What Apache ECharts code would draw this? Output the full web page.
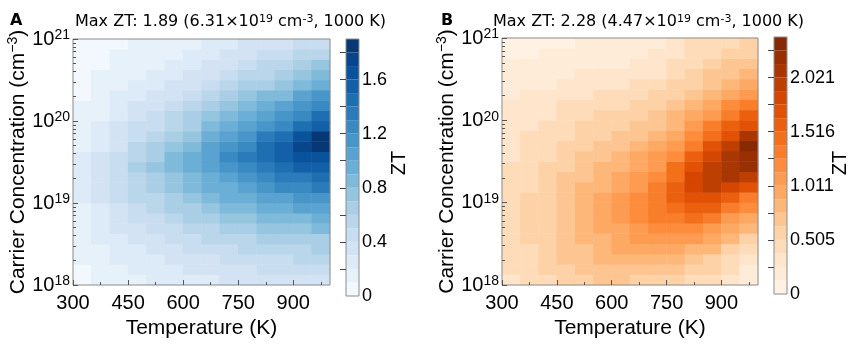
<!DOCTYPE html>
<html><head><meta charset="utf-8">
<script src="https://cdn.jsdelivr.net/npm/echarts@6/dist/echarts.min.js"></script>
<style>html,body{margin:0;padding:0;background:#fff}#c{width:853px;height:344px}</style>
</head><body><div id="c"></div>
<script>
// ---- data ----
// temperature cell centres (K) and log10 carrier-concentration cell centres
const tempCentersK = [325,375,425,475,525,575,625,675,725,775,825,875,925,975];
const logConcCenters = [18.0625,18.1875,18.3125,18.4375,18.5625,18.6875,18.8125,18.9375,19.0625,19.1875,19.3125,19.4375,19.5625,19.6875,19.8125,19.9375,20.0625,20.1875,20.3125,20.4375,20.5625,20.6875,20.8125,20.9375];
const tempTickLabels = [300,450,600,750,900];
const tempMinorTicks = [375,525,675,825,975];
const concDecades = [18,19,20,21];
const logMinorMantissas = [2,3,4,5,6,7,8,9];
// contour levels
const levelsA = [0,0.1,0.2,0.3,0.4,0.5,0.6,0.7,0.8,0.9,1.0,1.1,1.2,1.3,1.4,1.5,1.6,1.7,1.8,1.9];
const levelsB = [0,0.12632,0.25263,0.37895,0.50526,0.63158,0.75789,0.88421,1.01053,1.13684,1.26316,1.38947,1.51579,1.64211,1.76842,1.89474,2.02105,2.14737,2.27368,2.4];
const cbTicksA = [0.2,0.4,0.6,0.8,1.0,1.2,1.4,1.6,1.8];
const cbLabelsA = [0,0.4,0.8,1.2,1.6];
const cbTicksB = [0.25263,0.50526,0.75789,1.01053,1.26316,1.51579,1.76842,2.02105,2.27368];
const cbLabelsB = [0,0.50526,1.01053,1.51579,2.02105];
// ZT, one list per temperature column, from low to high concentration
const ztA = [
 [.08,.09,.11,.12,.14,.16,.18,.19,.21,.22,.23,.23,.21,.18,.16,.14,.12,.11,.09,.08,.06,.05,.04,.04],
 [.12,.13,.16,.18,.20,.23,.26,.28,.31,.33,.35,.35,.32,.28,.25,.22,.19,.16,.14,.12,.10,.08,.07,.06],
 [.15,.17,.20,.24,.27,.30,.34,.38,.41,.44,.47,.49,.45,.39,.35,.31,.27,.23,.20,.17,.14,.12,.10,.08],
 [.19,.21,.25,.29,.32,.37,.41,.46,.50,.54,.58,.61,.57,.50,.45,.40,.35,.30,.26,.22,.18,.15,.13,.11],
 [.22,.24,.28,.33,.38,.43,.48,.54,.59,.64,.68,.72,.69,.62,.55,.49,.43,.37,.32,.27,.23,.19,.16,.13],
 [.24,.28,.32,.37,.43,.48,.54,.61,.67,.73,.78,.82,.82,.75,.66,.59,.52,.45,.39,.33,.28,.23,.19,.16],
 [.27,.31,.35,.41,.47,.53,.60,.68,.75,.81,.88,.93,.96,.88,.77,.69,.61,.53,.46,.39,.33,.27,.23,.19],
 [.29,.34,.38,.44,.52,.59,.66,.75,.84,.91,.98,1.04,1.09,1.02,.90,.80,.71,.62,.54,.46,.39,.33,.27,.22],
 [.31,.36,.41,.48,.56,.63,.71,.81,.91,.99,1.07,1.14,1.20,1.16,1.03,.92,.81,.72,.62,.53,.45,.38,.31,.26],
 [.33,.38,.44,.50,.59,.68,.76,.86,.97,1.07,1.15,1.23,1.30,1.29,1.17,1.03,.92,.81,.70,.60,.52,.44,.36,.30],
 [.35,.40,.46,.53,.62,.72,.81,.91,1.03,1.14,1.23,1.33,1.40,1.44,1.31,1.16,1.03,.91,.80,.68,.58,.50,.41,.34],
 [.36,.42,.49,.55,.64,.75,.85,.96,1.08,1.21,1.31,1.42,1.50,1.58,1.46,1.29,1.15,1.02,.89,.77,.65,.56,.46,.38],
 [.38,.44,.51,.58,.67,.78,.89,1.01,1.14,1.28,1.39,1.50,1.60,1.70,1.61,1.44,1.28,1.14,1.00,.86,.74,.63,.53,.44],
 [.39,.45,.53,.60,.69,.81,.93,1.05,1.18,1.33,1.46,1.58,1.69,1.85,1.82,1.59,1.41,1.25,1.10,.96,.82,.70,.59,.49]
];
const ztB = [
 [.37,.39,.40,.42,.43,.44,.44,.43,.43,.42,.40,.39,.37,.35,.33,.31,.29,.26,.23,.20,.17,.14,.11,.07],
 [.44,.46,.48,.50,.51,.52,.53,.52,.51,.50,.48,.46,.44,.42,.39,.36,.34,.30,.27,.23,.19,.15,.12,.08],
 [.50,.53,.55,.58,.59,.61,.62,.61,.60,.58,.56,.53,.50,.47,.44,.41,.37,.34,.30,.25,.21,.17,.13,.09],
 [.57,.61,.64,.67,.69,.71,.73,.71,.70,.68,.65,.61,.58,.54,.50,.46,.42,.38,.34,.28,.23,.18,.14,.11],
 [.61,.67,.71,.75,.79,.81,.84,.82,.81,.77,.74,.70,.66,.61,.57,.52,.47,.42,.37,.31,.26,.21,.16,.14],
 [.64,.71,.78,.83,.87,.91,.94,.94,.92,.86,.83,.78,.73,.67,.62,.56,.51,.45,.40,.33,.28,.22,.18,.15],
 [.65,.73,.82,.90,.95,1.01,1.04,1.06,1.03,.99,.94,.87,.82,.74,.68,.61,.56,.49,.43,.36,.31,.25,.21,.18],
 [.63,.73,.83,.93,1.02,1.09,1.14,1.19,1.17,1.13,1.08,.98,.90,.82,.75,.66,.59,.52,.45,.38,.32,.27,.23,.20],
 [.62,.71,.83,.96,1.08,1.19,1.28,1.34,1.37,1.31,1.22,1.13,1.04,.94,.86,.74,.66,.58,.51,.43,.37,.32,.28,.24],
 [.58,.69,.80,.95,1.09,1.26,1.37,1.48,1.55,1.54,1.48,1.39,1.23,1.10,.99,.86,.79,.68,.60,.51,.45,.39,.34,.30],
 [.50,.62,.74,.88,1.03,1.22,1.41,1.57,1.70,1.79,1.77,1.68,1.52,1.35,1.20,1.08,.91,.81,.72,.62,.55,.48,.43,.38],
 [.39,.51,.63,.78,.93,1.12,1.32,1.56,1.75,1.91,2.01,1.98,1.87,1.67,1.48,1.29,1.12,.97,.85,.74,.65,.57,.50,.43],
 [.28,.38,.48,.63,.78,.96,1.13,1.38,1.62,1.86,2.03,2.14,2.10,1.96,1.75,1.58,1.33,1.15,.99,.86,.75,.65,.57,.50],
 [.16,.25,.36,.48,.62,.78,.95,1.15,1.38,1.65,1.95,2.18,2.24,2.28,2.03,1.76,1.54,1.33,1.13,.98,.85,.72,.63,.54]
];
const titleA = 'Max ZT: 1.89 (6.31×10{s|19} cm{s|-3}, 1000 K)';
const titleB = 'Max ZT: 2.28 (4.47×10{s|19} cm{s|-3}, 1000 K)';

// ---- styling helpers ----
const BLUES = ['#f7fbff','#deebf7','#c6dbef','#9ecae1','#6baed6','#4292c6','#2171b5','#08519c','#08306b'];
const ORANGES = ['#fff5eb','#fee6ce','#fdd0a2','#fdae6b','#fd8d3c','#f16913','#d94801','#a63603','#7f2704'];
function hex(h){return [parseInt(h.slice(1,3),16),parseInt(h.slice(3,5),16),parseInt(h.slice(5,7),16)];}
function sample(pal,t){t=Math.max(0,Math.min(1,t));const n=pal.length-1;const x=t*n;const i=Math.min(Math.floor(x),n-1);const f=x-i;const a=hex(pal[i]),b=hex(pal[i+1]);
  return 'rgb('+a.map((v,k)=>Math.round(v+(b[k]-v)*f)).join(',')+')';}
function bandColors(levels,pal){const lo=levels[0],hi=levels[levels.length-1];
  return levels.slice(0,-1).map((l,k)=>sample(pal,((l+levels[k+1])/2-lo)/(hi-lo)));}
function pieces(levels,colors){return levels.slice(0,-1).map((l,k)=>{const p={gte:l,color:colors[k]};
  if(k===levels.length-2)p.lte=levels[k+1];else p.lt=levels[k+1];return p;});}
function heatData(z){const d=[];z.forEach((col,i)=>col.forEach((v,j)=>d.push([i,j,v])));return d;}
const colorsA=bandColors(levelsA,BLUES), colorsB=bandColors(levelsB,ORANGES);
const FONT='Liberation Sans', TFONT='DejaVu Sans';
const SPINE='#8c8c8c', TICK='#555';
const logMinor=[];concDecades.slice(0,-1).forEach(d=>logMinorMantissas.forEach(m=>logMinor.push(d+Math.log10(m))));

const G={
  A:{left:73,top:39,width:257,height:256},
  AC:{left:346,top:39,width:13,height:257},
  B:{left:502,top:38,width:256,height:255},
  BC:{left:774,top:37,width:13,height:257}
};
function grid(g){return Object.assign({show:true,z:10,borderColor:SPINE,borderWidth:1,backgroundColor:'transparent'},g);}

function plotAxes(gi){
  const xs=[
    {gridIndex:gi,type:'category',data:tempCentersK,show:false},
    {gridIndex:gi,type:'value',min:300,max:1000,interval:150,position:'bottom',z:10,
      axisLine:{show:false},splitLine:{show:false},
      axisTick:{show:true,inside:true,length:5,lineStyle:{color:TICK}},
      axisLabel:{showMaxLabel:false,fontSize:20,fontFamily:FONT,color:'#000',margin:8},
      name:'Temperature (K)',nameLocation:'middle',nameGap:33,
      nameTextStyle:{fontSize:21,fontFamily:FONT,color:'#000'}},
    {gridIndex:gi,type:'value',min:300,max:1000,position:'bottom',z:10,
      axisLine:{show:false},splitLine:{show:false},axisLabel:{show:false},
      axisTick:{show:true,inside:true,length:3,customValues:tempMinorTicks,lineStyle:{color:TICK}}}
  ];
  const ys=[
    {gridIndex:gi,type:'category',data:logConcCenters,show:false},
    {gridIndex:gi,type:'value',min:18,max:21,interval:1,position:'left',z:10,
      axisLine:{show:false},splitLine:{show:false},
      axisTick:{show:true,inside:true,length:5,lineStyle:{color:TICK}},
      axisLabel:{margin:3,formatter:v=>'{b|10}{s|'+Math.round(v)+'}',
        rich:{b:{fontSize:20,fontFamily:FONT,color:'#000',lineHeight:21},
              s:{fontSize:14,fontFamily:FONT,color:'#000',verticalAlign:'top',lineHeight:12}}},
      name:'{n|Carrier Concentration (cm}{s|−3}{n|)}',nameLocation:'middle',nameRotate:90,nameGap:40,
      nameTextStyle:{fontSize:21,fontFamily:FONT,color:'#000',
        rich:{n:{fontSize:21,fontFamily:FONT,color:'#000',lineHeight:23},
              s:{fontSize:14,fontFamily:FONT,color:'#000',verticalAlign:'top',lineHeight:12}}}},
    {gridIndex:gi,type:'value',min:18,max:21,position:'left',z:10,
      axisLine:{show:false},splitLine:{show:false},axisLabel:{show:false},
      axisTick:{show:true,inside:true,length:3,customValues:logMinor,lineStyle:{color:TICK}}}
  ];
  return {xs,ys};
}
function cbarAxes(gi,max,ticks,labels,fmt){
  return {
    xs:[{gridIndex:gi,type:'value',min:0,max:1,show:false}],
    ys:[{gridIndex:gi,type:'value',min:0,max:max,position:'right',z:10,
      axisLine:{show:false},splitLine:{show:false},
      axisTick:{show:true,inside:true,length:6,customValues:ticks,lineStyle:{color:'#444'}},
      axisLabel:{customValues:labels,formatter:fmt,fontSize:18,fontFamily:FONT,color:'#000',margin:3}}]
  };
}
const pA=plotAxes(0), cA=cbarAxes(1,1.9,cbTicksA,cbLabelsA,v=>v===0?'0':String(+v.toFixed(1)));
const pB=plotAxes(2), cB=cbarAxes(3,2.4,cbTicksB,cbLabelsB,v=>v===0?'0':v.toFixed(3));
// axis indices: A plot x0..2 y0..2, A cbar x3 y3, B plot x4..6 y4..6, B cbar x7 y7
function cbarSeries(xi,yi,levels,colors){
  return {type:'custom',xAxisIndex:xi,yAxisIndex:yi,silent:true,
    data:levels.slice(0,-1).map((l,k)=>[0,l,levels[k+1],k]),
    encode:{x:0,y:1},
    renderItem:(params,api)=>{const lo=api.value(1),hi=api.value(2),k=api.value(3);
      const p0=api.coord([0,lo]),p1=api.coord([1,hi]);
      return {type:'rect',shape:{x:p0[0],y:p1[1],width:p1[0]-p0[0],height:p0[1]-p1[1]},style:{fill:colors[k]}};}};
}
function txt(x,y,text,font,extra){return Object.assign({type:'text',x:x,y:y,z:100,
  style:{text:text,font:font,fill:'#000',align:'left',verticalAlign:'middle',textAlign:'left',textVerticalAlign:'middle',
    rich:{s:{font:'11px "'+TFONT+'"',fill:'#000',verticalAlign:'top',lineHeight:11}}}},extra||{});}

const option={
  animation:false,
  grid:[grid(G.A),grid(G.AC),grid(G.B),grid(G.BC)],
  xAxis:[...pA.xs,...cA.xs,...pB.xs,...cB.xs],
  yAxis:[...pA.ys,...cA.ys,...pB.ys,...cB.ys],
  visualMap:[
    {type:'piecewise',show:false,seriesIndex:0,dimension:2,pieces:pieces(levelsA,colorsA)},
    {type:'piecewise',show:false,seriesIndex:2,dimension:2,pieces:pieces(levelsB,colorsB)}
  ],
  series:[
    {type:'heatmap',xAxisIndex:0,yAxisIndex:0,data:heatData(ztA),itemStyle:{borderWidth:0},emphasis:{disabled:true},silent:true},
    cbarSeries(3,3,levelsA,colorsA),
    {type:'heatmap',xAxisIndex:4,yAxisIndex:4,data:heatData(ztB),itemStyle:{borderWidth:0},emphasis:{disabled:true},silent:true},
    cbarSeries(7,7,levelsB,colorsB)
  ],
  graphic:[
    txt(10,21,'A','bold 16px "'+TFONT+'"'),
    txt(441,21,'B','bold 16px "'+TFONT+'"'),
    txt(75,22,titleA,'16px "'+TFONT+'"'),
    txt(493,22,titleB,'16px "'+TFONT+'"'),
    {type:'text',x:399,y:163,rotation:Math.PI/2,z:100,style:{text:'ZT',font:'20px "'+FONT+'"',fill:'#000',align:'center',verticalAlign:'middle',textAlign:'center',textVerticalAlign:'middle'}},
    {type:'text',x:840,y:163,rotation:Math.PI/2,z:100,style:{text:'ZT',font:'20px "'+FONT+'"',fill:'#000',align:'center',verticalAlign:'middle',textAlign:'center',textVerticalAlign:'middle'}}
  ]
};
const chart=echarts.init(document.getElementById('c'));
chart.setOption(option);
</script></body></html>
